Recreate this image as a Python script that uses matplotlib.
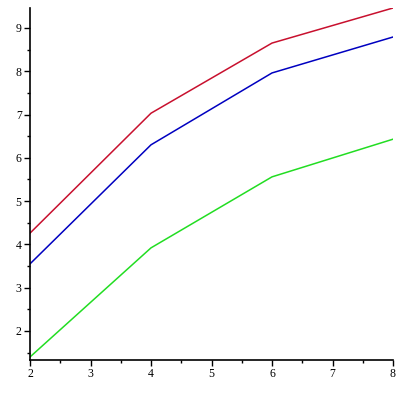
import matplotlib
matplotlib.use("Agg")
import matplotlib.pyplot as plt
from matplotlib.ticker import MultipleLocator

# data
x = [2, 4, 6, 8]
red = [4.26, 7.03, 8.65, 9.46]
blue = [3.55, 6.30, 7.96, 8.79]
green = [1.40, 3.92, 5.56, 6.43]

plt.rcParams['font.family'] = ['Liberation Serif', 'DejaVu Serif']

fig = plt.figure(figsize=(4, 4), dpi=100)
ax = fig.add_axes([0.075, 0.10, 0.9075, 0.88])

ax.plot(x, red, color='#c8102e', lw=1.1)
ax.plot(x, blue, color='#0000c0', lw=1.1)
ax.plot(x, green, color='#22dd22', lw=1.1)

ax.set_xlim(2, 8)
ax.set_ylim(1.33, 9.46)

ax.spines['top'].set_visible(False)
ax.spines['right'].set_visible(False)
ax.spines['left'].set_linewidth(1.2)
ax.spines['bottom'].set_linewidth(1.2)

ax.xaxis.set_major_locator(MultipleLocator(1))
ax.xaxis.set_minor_locator(MultipleLocator(0.5))
ax.yaxis.set_major_locator(MultipleLocator(1))
ax.yaxis.set_minor_locator(MultipleLocator(0.5))
ax.tick_params(which='major', length=4, width=1, labelsize=8.5, pad=2)
ax.tick_params(which='minor', length=2.5, width=1)

fig.savefig('out.png', dpi=100)
